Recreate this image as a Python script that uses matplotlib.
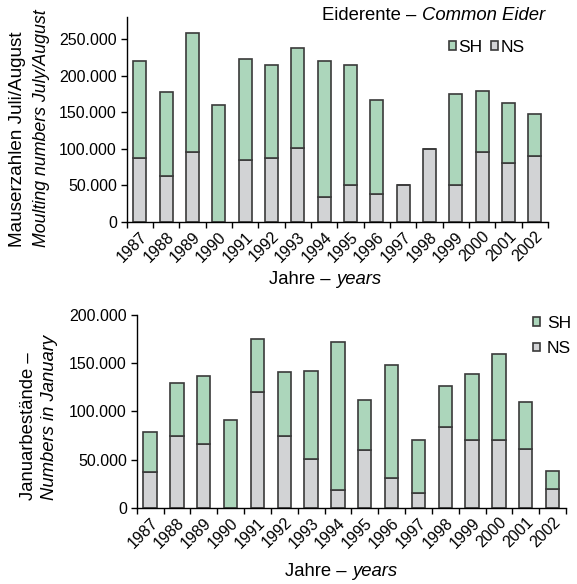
import matplotlib
matplotlib.use("Agg")
import matplotlib.pyplot as plt
import numpy as np
from matplotlib.ticker import FuncFormatter, MultipleLocator

plt.rcParams['font.family'] = ['Liberation Sans', 'DejaVu Sans']
plt.rcParams['font.size'] = 13.3
plt.rcParams['xtick.labelsize'] = 11.5
plt.rcParams['ytick.labelsize'] = 11.5

years = [str(y) for y in range(1987, 2003)]

# moulting numbers July/August (top panel)
moult_ns = [88000, 63000, 95500, 0, 85000, 88000, 101000, 34500,
            50000, 37700, 50000, 100000, 51000, 96000, 80000, 90000]
moult_total = [220000, 178000, 258000, 160000, 223000, 214000, 238000, 220000,
               214000, 167000, 50000, 100000, 175500, 179000, 163000, 147000]

# numbers in January (bottom panel)
jan_ns = [37000, 74500, 66000, 0, 120000, 74500, 51000, 19000,
          60300, 31400, 15200, 83400, 70000, 70700, 61400, 19700]
jan_total = [78300, 129300, 136200, 91000, 174500, 140300, 141700, 171400,
             112000, 148000, 70700, 126200, 138600, 159300, 109700, 38600]

green = '#acd6bb'
grey = '#d2d3d5'
edge = '#3a3a3a'

def thousands(v, pos):
    return f"{v:,.0f}".replace(",", ".")

def stacked(ax, ns, total, ymax, ystep):
    x = np.arange(len(years))
    ns = np.array(ns)
    sh = np.array(total) - ns
    b_ns = ax.bar(x, ns, width=0.5, color=grey, edgecolor=edge, linewidth=1.2, label='NS')
    b_sh = ax.bar(x, sh, width=0.5, bottom=ns, color=green, edgecolor=edge, linewidth=1.2, label='SH')
    ax.set_xlim(-0.5, len(years) - 0.5)
    ax.set_ylim(0, ymax)
    ax.yaxis.set_major_locator(MultipleLocator(ystep))
    ax.yaxis.set_major_formatter(FuncFormatter(thousands))
    ax.set_xticks(x)
    ax.set_xticklabels(years, rotation=45, ha='right', rotation_mode='anchor')
    ax.set_xticks(np.arange(-0.5, len(years)), minor=True)
    ax.tick_params(axis='x', which='major', length=0, pad=5)
    ax.tick_params(axis='x', which='minor', length=4, width=1, direction='out')
    ax.tick_params(axis='y', length=4, width=1, direction='out', pad=3)
    for s in ['top', 'right']:
        ax.spines[s].set_visible(False)
    ax.spines['left'].set_linewidth(1)
    ax.spines['bottom'].set_linewidth(1)
    return b_sh, b_ns

fig = plt.figure(figsize=(5.77, 5.84), dpi=100)
W, H = 577, 584

ax1 = fig.add_axes([126.7 / W, 1 - 222 / H, (548 - 126.7) / W, (222 - 17) / H])
sh1, ns1 = stacked(ax1, moult_ns, moult_total, 280000, 50000)
# only show ticks up to 250.000
ax1.set_yticks(np.arange(0, 250001, 50000))

ax2 = fig.add_axes([136.7 / W, 1 - 508 / H, (566 - 136.7) / W, (508 - 314.7) / H])
sh2, ns2 = stacked(ax2, jan_ns, jan_total, 200000, 50000)

# title
t = fig.text(545 / W, 1 - 16 / H, 'Common Eider', style='italic', ha='right', va='center')
ax1.annotate('Eiderente \u2013 ', xy=(0, 0.5), xycoords=t, ha='right', va='center')

# x labels
fig.text(336 / W, 1 - 280 / H, 'Jahre \u2013 ', ha='right', va='center')
fig.text(336 / W, 1 - 280 / H, 'years', style='italic', ha='left', va='center')
fig.text(352 / W, 1 - 572 / H, 'Jahre \u2013 ', ha='right', va='center')
fig.text(352 / W, 1 - 572 / H, 'years', style='italic', ha='left', va='center')

# y labels
fig.text(17.5 / W, 1 - 247 / H, 'Mauserzahlen Juli/August', rotation=90, ha='center',
         va='bottom', fontsize=13.6)
fig.text(42 / W, 1 - 247 / H, 'Moulting numbers July/August', rotation=90, style='italic',
         ha='center', va='bottom', fontsize=12.8)
fig.text(29 / W, 1 - 500 / H, 'Januarbest\u00e4nde \u2013', rotation=90, ha='center', va='bottom')
fig.text(50 / W, 1 - 500 / H, 'Numbers in January', rotation=90, style='italic',
         ha='center', va='bottom')

# legends
fig.legend([sh1, ns1], ['SH', 'NS'], loc='center', bbox_to_anchor=(487 / W, 1 - 47 / H),
           ncol=2, frameon=False, handlelength=0.4, handleheight=0.4, fontsize=12.5,
           handletextpad=0.15, columnspacing=0.5, borderpad=0)
fig.legend([sh2, ns2], ['SH', 'NS'], loc='center', bbox_to_anchor=(552 / W, 1 - 336 / H),
           ncol=1, frameon=False, handlelength=0.4, handleheight=0.4, fontsize=12.5,
           handletextpad=0.4, labelspacing=0.6, borderpad=0)

fig.savefig('out.png', dpi=100)
